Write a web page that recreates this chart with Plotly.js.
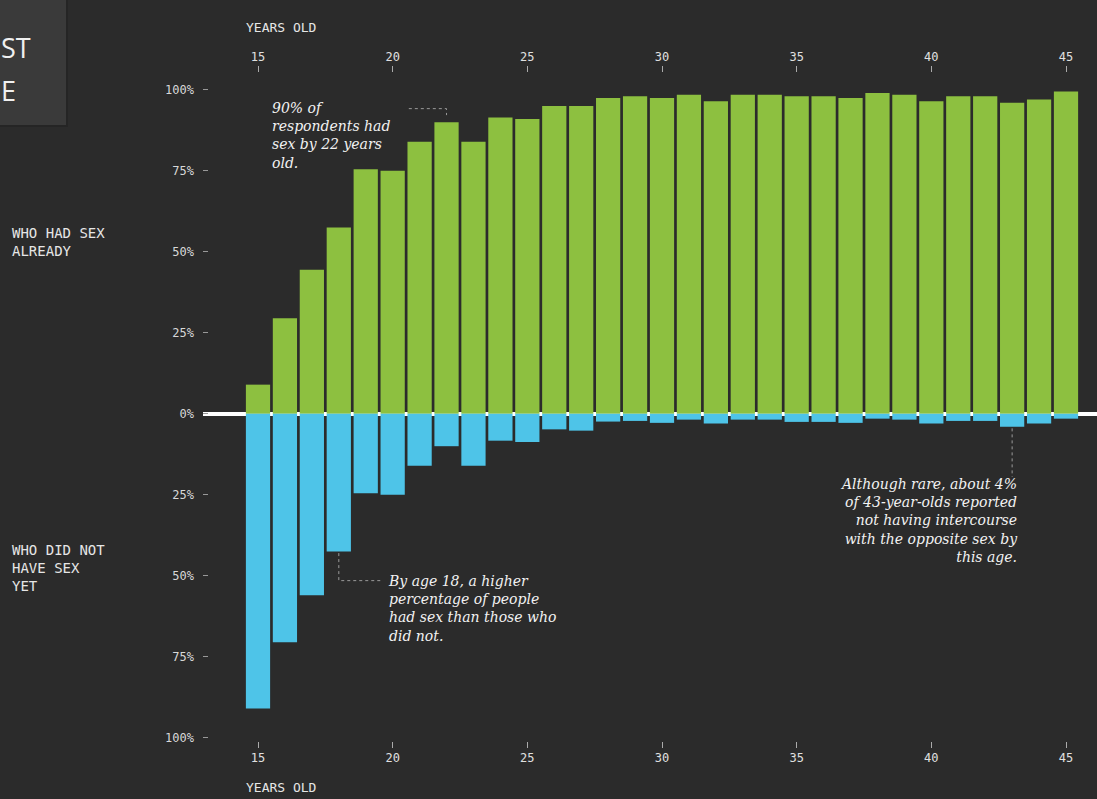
<!DOCTYPE html>
<html>
<head>
<meta charset="utf-8">
<script src="https://cdn.plot.ly/plotly-3.0.1.min.js"></script>
<style>
  html, body { margin: 0; padding: 0; background: #2b2b2b; }
  #chart { width: 1097px; height: 799px; }
</style>
</head>
<body>
<div id="chart"></div>
<script>
// Share of respondents who had / had not had sex, by age
const ages = [15, 16, 17, 18, 19, 20, 21, 22, 23, 24, 25, 26, 27, 28, 29, 30,
              31, 32, 33, 34, 35, 36, 37, 38, 39, 40, 41, 42, 43, 44, 45];
const hadSex = [9, 29.5, 44.5, 57.5, 75.5, 75, 84, 90, 84, 91.5, 91, 95, 95, 97.5, 98, 97.5,
                98.5, 96.5, 98.5, 98.5, 98, 98, 97.5, 99, 98.5, 96.5, 98, 98, 96, 97, 99.5];
const notYet = [91, 70.5, 56, 42.5, 24.5, 25, 16, 10, 16, 8.3, 8.7, 4.8, 5.2, 2.4, 2.2, 2.8,
                1.8, 3, 1.8, 1.8, 2.5, 2.5, 2.8, 1.5, 1.8, 3, 2.2, 2.2, 4, 3, 1.5];

const ageTicks = [15, 20, 25, 30, 35, 40, 45];
const pctTicks = [100, 75, 50, 25, 0, -25, -50, -75, -100];
const pctLabels = ['100%', '75%', '50%', '25%', '0%', '25%', '50%', '75%', '100%'];

const W = 1097, H = 799;
const M = { l: 203, r: 0, t: 73, b: 58 };
const plotW = W - M.l - M.r, plotH = H - M.t - M.b;
// pixel -> paper helpers for page furniture outside the plot area
const px = v => (v - M.l) / plotW;
const py = v => (H - M.b - v) / plotH;

const BG = '#2b2b2b';
const GREEN = '#8dc040';
const BLUE = '#4ec4e8';
const MONO = 'DejaVu Sans Mono, monospace';
const SERIF = 'DejaVu Serif, serif';

const xRange = [12.958, 46.151];
const yRange = [-101, 105.2];

const traces = [
  { type: 'bar', x: ages, y: hadSex, marker: { color: GREEN, line: { width: 0 } },
    hoverinfo: 'x+y', name: 'had sex' },
  { type: 'bar', x: ages, y: notYet.map(v => -v), marker: { color: BLUE, line: { width: 0 } },
    hoverinfo: 'x+y', name: 'not yet' },
  // empty carrier so the top age axis gets drawn
  { type: 'scatter', x: ageTicks, y: ageTicks.map(() => 0), xaxis: 'x2', yaxis: 'y',
    mode: 'none', hoverinfo: 'skip', showlegend: false }
];

const xCommon = {
  range: xRange, tickvals: ageTicks, ticks: 'outside', ticklen: 6, tickwidth: 1,
  tickcolor: '#aaa', showgrid: false, zeroline: false, showline: false,
  tickfont: { family: MONO, size: 12, color: '#e0e0e0' }, fixedrange: true
};

const note = (text, x, y, xanchor, align) => ({
  text, x, y, xref: 'x', yref: 'y', xanchor, yanchor: 'top', align,
  showarrow: false, font: { family: SERIF, size: 14, color: '#f2f2f2', style: 'italic' }
});
const label = (text, xp, yp, size) => ({
  text, x: xp, y: yp, xref: 'paper', yref: 'paper', xanchor: 'left', yanchor: 'top',
  align: 'left', showarrow: false, font: { family: MONO, size: size, color: '#e6e6e6' }
});
const dotted = { color: '#9a9a9a', width: 1, dash: 'dot' };
const titleFont = { family: 'Open Sans, sans-serif', size: 27, color: '#f0f0f0' };

const layout = {
  width: W, height: H, margin: M,
  paper_bgcolor: BG, plot_bgcolor: BG,
  barmode: 'relative', bargap: 0.1, showlegend: false,
  xaxis: Object.assign({}, xCommon, { side: 'bottom', anchor: 'y' }),
  xaxis2: Object.assign({}, xCommon, { side: 'top', overlaying: 'x', anchor: 'y' }),
  yaxis: {
    range: yRange, tickvals: pctTicks, ticktext: pctLabels,
    ticks: 'inside', ticklen: 5, tickwidth: 1, tickcolor: '#999',
    ticklabelstandoff: 8, showgrid: false, showline: false,
    zeroline: true, zerolinecolor: '#ffffff', zerolinewidth: 4,
    layer: 'above traces',
    tickfont: { family: MONO, size: 12, color: '#d8d8d8' }, fixedrange: true
  },
  shapes: [
    // title panel in the corner
    { type: 'rect', xref: 'paper', yref: 'paper', x0: px(0), x1: px(68), y0: py(127), y1: py(0),
      fillcolor: '#252525', line: { width: 0 }, layer: 'below' },
    { type: 'rect', xref: 'paper', yref: 'paper', x0: px(0), x1: px(66), y0: py(125), y1: py(0),
      fillcolor: '#3a3a3a', line: { width: 0 }, layer: 'below' },
    // leader lines for the notes
    { type: 'path', xref: 'x', yref: 'y', path: 'M 20.6,94.2 L 22,94.2 L 22,92.2', line: dotted },
    { type: 'path', xref: 'x', yref: 'y', path: 'M 18,-43 L 18,-51.5 L 19.6,-51.5', line: dotted },
    { type: 'path', xref: 'x', yref: 'y', path: 'M 43,-4.5 L 43,-19.5', line: dotted }
  ],
  annotations: [
    { text: 'ST', x: px(0), y: py(28), xref: 'paper', yref: 'paper', xanchor: 'left',
      yanchor: 'top', borderpad: 0, showarrow: false, font: titleFont },
    { text: 'E', x: px(0), y: py(71), xref: 'paper', yref: 'paper', xanchor: 'left',
      yanchor: 'top', borderpad: 0, showarrow: false, font: titleFont },

    label('YEARS OLD', px(244), py(18), 13),
    label('YEARS OLD', px(244), py(778), 13),
    label('WHO HAD SEX<br>ALREADY', px(10), py(223), 14),
    label('WHO DID NOT<br>HAVE SEX<br>YET', px(10), py(540), 14),

    note('90% of<br>respondents had<br>sex by 22 years<br>old.', 15.45, 97.5, 'left', 'left'),
    note('By age 18, a higher<br>percentage of people<br>had sex than those who<br>did not.', 19.75, -48.6, 'left', 'left'),
    note('Although rare, about 4%<br>of 43-year-olds reported<br>not having intercourse<br>with the opposite sex by<br>this age.',
         43.3, -18.6, 'right', 'right')
  ]
};

Plotly.newPlot('chart', traces, layout, { displayModeBar: false, staticPlot: true });
</script>
</body>
</html>
